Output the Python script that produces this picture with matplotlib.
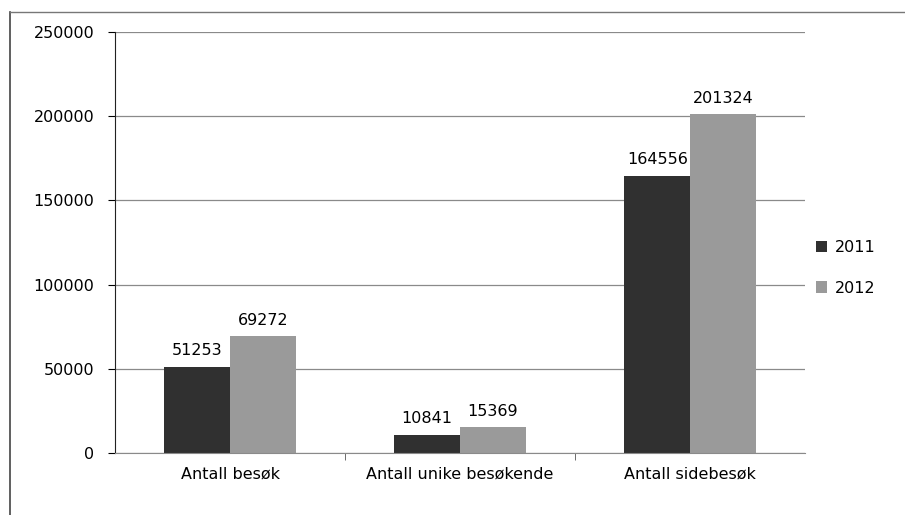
import numpy as np
import matplotlib.pyplot as plt

categories = ['Antall besøk', 'Antall unike besøkende', 'Antall sidebesøk']
years = ['2011', '2012']
v2011 = [51253, 10841, 164556]
v2012 = [69272, 15369, 201324]
yticks = [0, 50000, 100000, 150000, 200000, 250000]

plt.rcParams['font.family'] = ['DejaVu Sans']

fig = plt.figure(figsize=(9.05, 5.15), dpi=100)
ax = fig.add_axes([115/905, 1-453/515, (805-115)/905, (453-32)/515])

x = np.arange(len(categories))
w = 0.285
b1 = ax.bar(x - w/2, v2011, w, color='#303030', label=years[0])
b2 = ax.bar(x + w/2, v2012, w, color='#9a9a9a', label=years[1])

for bars in (b1, b2):
    for r in bars:
        ax.text(r.get_x() + r.get_width()/2, r.get_height() + 5000,
                str(int(r.get_height())), ha='center', va='bottom', fontsize=11.5)

ax.set_xlim(-0.5, 2.5)
ax.set_ylim(0, 250000)
ax.set_yticks(yticks)
ax.set_yticklabels([str(t) for t in yticks], fontsize=11.5)
ax.set_xticks(x)
ax.set_xticklabels(categories, fontsize=11.5)
ax.set_xticks([0.5, 1.5], minor=True)
ax.tick_params(axis='x', which='major', length=0, pad=10)
ax.tick_params(axis='x', which='minor', length=5, color='#555555')
ax.tick_params(axis='y', length=5, pad=10)

ax.grid(axis='y', color='#8a8a8a', linewidth=0.9)
ax.set_axisbelow(True)
for s in ['top', 'right']:
    ax.spines[s].set_visible(False)
ax.spines['left'].set_color('#222222')
ax.spines['bottom'].set_color('#8a8a8a')

ax.legend(loc='center left', bbox_to_anchor=(0.995, 0.44), frameon=False,
          fontsize=11.5, handlelength=0.7, handleheight=0.7, labelspacing=1.6,
          handletextpad=0.5)

# outer chart frame
fig.add_artist(plt.Line2D([10/905, 10/905], [0, 1-12/515], color='#444444', lw=1.2))
fig.add_artist(plt.Line2D([10/905, 1], [1-12/515, 1-12/515], color='#777777', lw=1))

fig.savefig('out.png', dpi=100)
